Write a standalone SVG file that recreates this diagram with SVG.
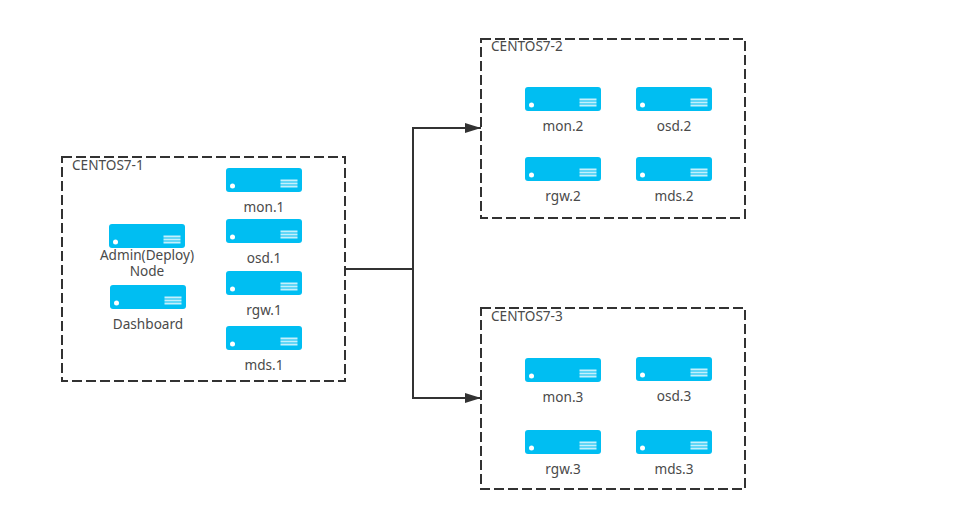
<svg xmlns="http://www.w3.org/2000/svg" xmlns:xlink="http://www.w3.org/1999/xlink" width="968" height="519" viewBox="0 0 968 519">
<style>
text{font-family:"Noto Sans","Open Sans","Liberation Sans",sans-serif;font-size:13.600px;fill:#4a4a4a}
.m{text-anchor:middle}
.box{fill:#fff;stroke:#323232;stroke-width:2;stroke-dasharray:10 4}
.conn{fill:none;stroke:#323232;stroke-width:2}
</style>
<defs>
<marker id="arrow" markerUnits="userSpaceOnUse" markerWidth="17" markerHeight="12" refX="16" refY="5.500" orient="auto"><path d="M0 0.500L16 5.500L0 10.500Z" fill="#323232"/></marker>
<g id="server">
<rect width="76" height="24" rx="3" fill="#00bef2"/>
<circle cx="6.500" cy="18" r="2.500" fill="#fff"/>
<path d="M54.500 12.500H71.500M54.500 15.500H71.500M54.500 18.500H71.500" stroke="#c4f0fc" stroke-width="1.800"/>
</g>
</defs>
<rect width="968" height="519" fill="#fff"/>
<g id="group-1"><rect class="box" x="62" y="157" width="283" height="224"/><text x="72" y="170">CENTOS7-1</text></g>
<g id="group-2"><rect class="box" x="481" y="39" width="264" height="179"/><text x="491" y="51">CENTOS7-2</text></g>
<g id="group-3"><rect class="box" x="481" y="308" width="264" height="181"/><text x="491" y="321">CENTOS7-3</text></g>
<g id="connectors">
<path class="conn" d="M345 269H413V128H481" marker-end="url(#arrow)"/>
<path class="conn" d="M413 269V398H481" marker-end="url(#arrow)"/>
</g>
<g id="admin"><use xlink:href="#server" x="109" y="224"/><text class="m" y="260"><tspan x="147">Admin(Deploy)</tspan><tspan x="147" dy="16">Node</tspan></text></g>
<g id="dashboard"><use xlink:href="#server" x="110" y="285"/><text class="m" x="148" y="329">Dashboard</text></g>
<g id="mon1"><use xlink:href="#server" x="226" y="168"/><text class="m" x="264" y="212">mon.1</text></g>
<g id="osd1"><use xlink:href="#server" x="226" y="219"/><text class="m" x="264" y="263">osd.1</text></g>
<g id="rgw1"><use xlink:href="#server" x="226" y="271"/><text class="m" x="264" y="315">rgw.1</text></g>
<g id="mds1"><use xlink:href="#server" x="226" y="326"/><text class="m" x="264" y="370">mds.1</text></g>
<g id="mon2"><use xlink:href="#server" x="525" y="87"/><text class="m" x="563" y="131">mon.2</text></g>
<g id="osd2"><use xlink:href="#server" x="636" y="87"/><text class="m" x="674" y="131">osd.2</text></g>
<g id="rgw2"><use xlink:href="#server" x="525" y="157"/><text class="m" x="563" y="201">rgw.2</text></g>
<g id="mds2"><use xlink:href="#server" x="636" y="157"/><text class="m" x="674" y="201">mds.2</text></g>
<g id="mon3"><use xlink:href="#server" x="525" y="358"/><text class="m" x="563" y="402">mon.3</text></g>
<g id="osd3"><use xlink:href="#server" x="636" y="357"/><text class="m" x="674" y="401">osd.3</text></g>
<g id="rgw3"><use xlink:href="#server" x="525" y="430"/><text class="m" x="563" y="474">rgw.3</text></g>
<g id="mds3"><use xlink:href="#server" x="636" y="430"/><text class="m" x="674" y="474">mds.3</text></g>
</svg>
